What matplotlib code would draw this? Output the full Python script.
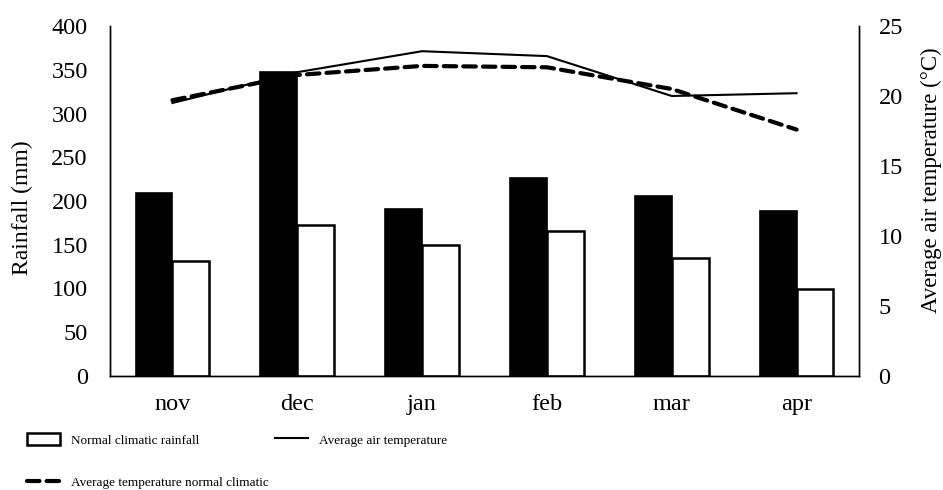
import matplotlib
matplotlib.use("Agg")
import matplotlib.pyplot as plt
import numpy as np

months = ["nov", "dec", "jan", "feb", "mar", "apr"]
rainfall = [209, 347, 191, 226, 206, 189]
normal_rainfall = [132, 173, 150, 166, 135, 99]
avg_temp = [19.5, 21.7, 23.2, 22.85, 20.0, 20.2]
normal_temp = [19.7, 21.5, 22.15, 22.05, 20.5, 17.6]

plt.rcParams['font.family'] = ['Liberation Serif', 'DejaVu Serif']

fig = plt.figure(figsize=(9.43, 4.90), dpi=100)
ax = fig.add_axes([110/943, 1-376/490, (859-110)/943, 350/490])
ax2 = ax.twinx()

x = np.arange(len(months))
w = 0.295
ax.bar(x - w/2, rainfall, width=w, color='black', edgecolor='black', linewidth=1.2,
       label='Rainfall', zorder=2)
b2 = ax.bar(x + w/2, normal_rainfall, width=w, color='white', edgecolor='black', linewidth=1.8,
            label='Normal climatic rainfall', zorder=2)

l1, = ax2.plot(x, avg_temp, color='black', linewidth=1.5, label='Average air temperature')
l2, = ax2.plot(x, normal_temp, color='black', linewidth=3.0, dashes=(3.0, 1.7),
               dash_capstyle='round', label='Average temperature normal climatic')

ax.set_xlim(-0.5, 5.5)
ax.set_ylim(0, 400)
ax2.set_ylim(0, 25)
ax.set_yticks(range(0, 401, 50))
ax2.set_yticks(range(0, 26, 5))
ax.set_xticks(x)
ax.set_xticklabels(months)

for a in (ax, ax2):
    a.spines['top'].set_visible(False)
    for s in ('left', 'right', 'bottom'):
        a.spines[s].set_linewidth(1.0)
ax.tick_params(axis='y', length=0, pad=16, labelsize=17.5)
ax.tick_params(axis='x', length=0, pad=13, labelsize=17.5)
ax2.tick_params(axis='y', length=0, pad=14, labelsize=17.5)

ax.set_ylabel('Rainfall (mm)', fontsize=17)
ax.yaxis.set_label_coords(22/943, 1-208/490, transform=fig.transFigure)
ax2.set_ylabel('Average air temperature (°C)', fontsize=16.5)
ax2.yaxis.set_label_coords(931/943, 1-180/490, transform=fig.transFigure)
ax.yaxis.label.set_verticalalignment('center')
ax2.yaxis.label.set_verticalalignment('center')

common = dict(loc='upper left', frameon=False, fontsize=9.5,
              handlelength=2.5, handleheight=1.05, handletextpad=0.85,
              labelspacing=2.2, borderaxespad=0, borderpad=0)
leg1 = fig.legend([b2, l2], [b2.get_label(), l2.get_label()],
                  bbox_to_anchor=(27/943, 1-433/490), **common)
leg2 = fig.legend([l1], [l1.get_label()],
                  bbox_to_anchor=(275/943, 1-433/490), **common)

fig.savefig('out.png', dpi=100)
